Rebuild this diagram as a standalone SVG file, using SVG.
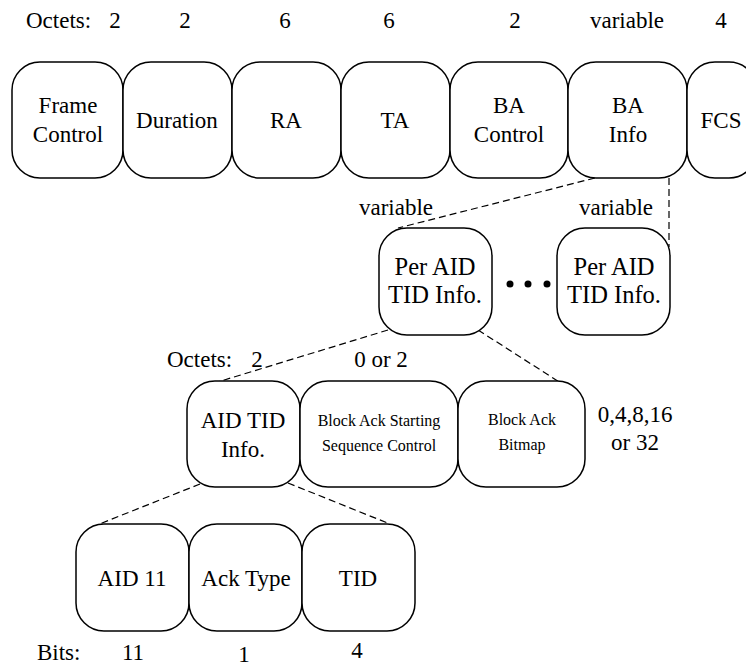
<svg xmlns="http://www.w3.org/2000/svg" width="746" height="667" viewBox="0 0 746 667">
<style>
text{font-family:'Liberation Serif',serif;fill:#000;font-size:23px}
.c{text-anchor:middle}
.s{font-size:16px}
.p{font-size:24.5px}
.box{fill:#fff;stroke:#000;stroke-width:1.5}
.dash{stroke:#000;stroke-width:1.2;stroke-dasharray:7,4;fill:none}
</style>
<rect width="746" height="667" fill="#fff"/>
<g id="labels">
<text x="26" y="28">Octets:</text>
<text class="c" x="115" y="28">2</text>
<text class="c" x="185" y="28">2</text>
<text class="c" x="285" y="28">6</text>
<text class="c" x="389" y="28">6</text>
<text class="c" x="515" y="28">2</text>
<text class="c" x="627" y="28">variable</text>
<text class="c" x="721" y="28">4</text>
<text class="c" x="396" y="215">variable</text>
<text class="c" x="616" y="215">variable</text>
<text x="167" y="367">Octets:</text>
<text class="c" x="257" y="367">2</text>
<text class="c" x="381" y="367">0 or 2</text>
<text class="c" x="635" y="422">0,4,8,16</text>
<text class="c" x="635" y="450">or 32</text>
<text x="37" y="660">Bits:</text>
<text class="c" x="133" y="660">11</text>
<text class="c" x="244" y="662">1</text>
<text class="c" x="357" y="658">4</text>
</g>
<g id="connectors">
<line class="dash" x1="595" y1="178" x2="398" y2="228"/>
<line class="dash" x1="669" y1="178" x2="669" y2="247"/>
<line class="dash" x1="388" y1="330" x2="198" y2="388"/>
<line class="dash" x1="478" y1="330" x2="575" y2="392"/>
<line class="dash" x1="200" y1="484" x2="97" y2="525"/>
<line class="dash" x1="288" y1="483" x2="390" y2="524"/>
</g>
<g id="frame-control"><rect class="box" x="12" y="62" width="111" height="116" rx="28"/><text class="c" x="68" y="113">Frame</text><text class="c" x="68" y="142">Control</text></g>
<g id="duration"><rect class="box" x="123" y="62" width="109" height="116" rx="28"/><text class="c" x="177" y="128">Duration</text></g>
<g id="ra"><rect class="box" x="232" y="62" width="109" height="116" rx="28"/><text class="c" x="286" y="128">RA</text></g>
<g id="ta"><rect class="box" x="341" y="62" width="109" height="116" rx="28"/><text class="c" x="395" y="128">TA</text></g>
<g id="ba-control"><rect class="box" x="450" y="62" width="118" height="116" rx="28"/><text class="c" x="509" y="113">BA</text><text class="c" x="509" y="142">Control</text></g>
<g id="ba-info"><rect class="box" x="568" y="62" width="119" height="116" rx="28"/><text class="c" x="628" y="113">BA</text><text class="c" x="628" y="142">Info</text></g>
<g id="fcs"><rect class="box" x="687" y="62" width="70" height="116" rx="28"/><text class="c" x="721" y="128">FCS</text></g>
<g id="per-aid-1"><rect class="box" x="379" y="228" width="113" height="107" rx="28"/><text class="c p" x="435" y="275">Per AID</text><text class="c p" x="435" y="303">TID Info.</text></g>
<g id="dots"><circle cx="510" cy="284" r="3.5"/><circle cx="528" cy="284" r="3.5"/><circle cx="547" cy="284" r="3.5"/></g>
<g id="per-aid-2"><rect class="box" x="557" y="228" width="113" height="107" rx="28"/><text class="c p" x="614" y="275">Per AID</text><text class="c p" x="614" y="303">TID Info.</text></g>
<g id="aid-tid-info"><rect class="box" x="187" y="381" width="113" height="106" rx="28"/><text class="c" x="243" y="428">AID TID</text><text class="c" x="243" y="457">Info.</text></g>
<g id="ssc"><rect class="box" x="300" y="381" width="158" height="106" rx="28"/><text class="c s" x="379" y="426">Block Ack Starting</text><text class="c s" x="379" y="451">Sequence Control</text></g>
<g id="bitmap"><rect class="box" x="458" y="381" width="127" height="106" rx="28"/><text class="c s" x="522" y="425">Block Ack</text><text class="c s" x="522" y="450">Bitmap</text></g>
<g id="aid11"><rect class="box" x="76" y="524" width="113" height="107" rx="28"/><text class="c" x="132" y="586">AID 11</text></g>
<g id="ack-type"><rect class="box" x="189" y="524" width="113" height="107" rx="28"/><text class="c" x="246" y="586">Ack Type</text></g>
<g id="tid"><rect class="box" x="302" y="524" width="113" height="107" rx="28"/><text class="c" x="358" y="586">TID</text></g>
</svg>
